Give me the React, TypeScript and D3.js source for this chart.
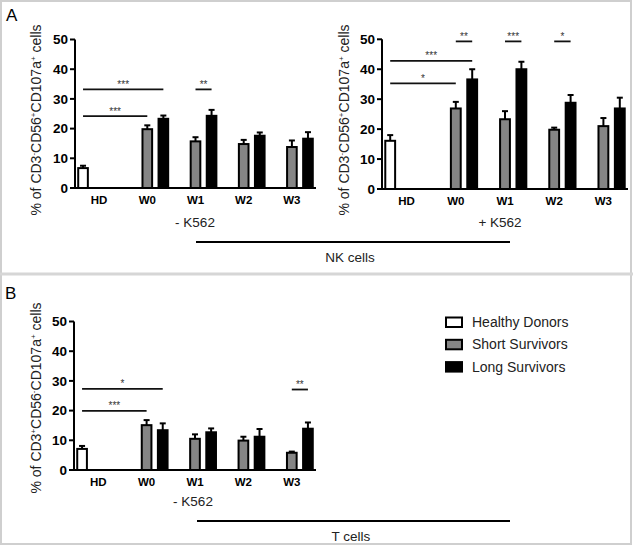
import * as d3 from "d3";

// groups and series
const groups = ["HD", "W0", "W1", "W2", "W3"];
const seriesKeys = ["healthy", "short", "long"];
const seriesNames = ["Healthy Donors", "Short Survivors", "Long Survivors"];
const seriesFill = ["#ffffff", "#858585", "#000000"];
const yTicks = [0, 10, 20, 30, 40, 50];

// NK cells, - K562
const nkMinusHealthy = [6.7, null, null, null, null];
const nkMinusHealthyErr = [0.8, null, null, null, null];
const nkMinusShort = [null, 19.8, 15.7, 14.8, 13.8];
const nkMinusShortErr = [null, 1.3, 1.4, 1.4, 2.2];
const nkMinusLong = [null, 23.3, 24.3, 17.6, 16.6];
const nkMinusLongErr = [null, 1.1, 2.0, 1.1, 2.2];

// NK cells, + K562
const nkPlusHealthy = [16.1, null, null, null, null];
const nkPlusHealthyErr = [1.9, null, null, null, null];
const nkPlusShort = [null, 26.9, 23.3, 19.8, 21.0];
const nkPlusShortErr = [null, 2.2, 2.7, 0.7, 2.7];
const nkPlusLong = [null, 36.6, 40.0, 28.8, 26.9];
const nkPlusLongErr = [null, 3.4, 2.5, 2.6, 3.6];

// T cells, - K562
const tHealthy = [7.1, null, null, null, null];
const tHealthyErr = [1.0, null, null, null, null];
const tShort = [null, 15.1, 10.5, 9.9, 5.8];
const tShortErr = [null, 1.7, 1.5, 1.3, 0.4];
const tLong = [null, 13.4, 12.7, 11.2, 13.9];
const tLongErr = [null, 2.3, 1.3, 2.6, 2.1];

// significance brackets: [groupA, seriesA, groupB, seriesB, y, stars]
type Bracket = [string, string, string, string, number, string];
const nkMinusSig: Bracket[] = [
  ["HD", "healthy", "W0", "long", 33.2, "***"],
  ["HD", "healthy", "W0", "short", 24.2, "***"],
  ["W1", "short", "W1", "long", 33.2, "**"],
];
const nkPlusSig: Bracket[] = [
  ["W0", "short", "W0", "long", 49.3, "**"],
  ["W1", "short", "W1", "long", 49.3, "***"],
  ["W2", "short", "W2", "long", 49.3, "*"],
  ["HD", "healthy", "W0", "long", 42.8, "***"],
  ["HD", "healthy", "W0", "short", 35.3, "*"],
];
const tSig: Bracket[] = [
  ["HD", "healthy", "W0", "long", 27.3, "*"],
  ["HD", "healthy", "W0", "short", 19.9, "***"],
  ["W3", "short", "W3", "long", 27.1, "**"],
];

const font = "Liberation Sans, Arial, Helvetica, sans-serif";

type PanelProps = {
  x0: number;
  x1: number;
  yZero: number;
  yTop: number;
  values: (number | null)[][];
  errors: (number | null)[][];
  sig: Bracket[];
  titleX: number;
  titleY: number;
  nk: boolean;
};

const Panel = ({ x0, x1, yZero, yTop, values, errors, sig, titleX, titleY, nk }: PanelProps) => {
  const slots = groups.flatMap((g) => seriesKeys.map((s) => `${g}|${s}`));
  const x = d3.scaleBand().domain(slots).range([x0, x1]).paddingInner(0.4).paddingOuter(0.2);
  const y = d3.scaleLinear().domain([0, 50]).range([yZero, yTop]);
  const bw = x.bandwidth();
  const cx = (g: string, s: string) => x(`${g}|${s}`)! + bw / 2;

  return (
    <g>
      {/* bars */}
      {seriesKeys.map((s, si) =>
        groups.map((g, gi) => {
          const v = values[si][gi];
          if (v == null) return null;
          const e = errors[si][gi] ?? 0;
          const c = cx(g, s);
          return (
            <g key={`${s}${g}`}>
              <line x1={c} x2={c} y1={y(v)} y2={y(v + e)} stroke="#000" strokeWidth={2} />
              <line x1={c - 3} x2={c + 3} y1={y(v + e)} y2={y(v + e)} stroke="#000" strokeWidth={2} />
              <rect
                x={x(`${g}|${s}`)!}
                y={y(v)}
                width={bw}
                height={yZero - y(v)}
                fill={seriesFill[si]}
                stroke="#000"
                strokeWidth={2}
              />
            </g>
          );
        })
      )}
      {/* axes */}
      <line x1={x0} x2={x1} y1={yZero} y2={yZero} stroke="#000" strokeWidth={2} />
      <line x1={x0} x2={x0} y1={yZero + 1} y2={y(50)} stroke="#000" strokeWidth={2} />
      {yTicks.map((t) => (
        <g key={t}>
          <line x1={x0 - 5} x2={x0} y1={y(t)} y2={y(t)} stroke="#000" strokeWidth={2} />
          <text
            x={x0 - 7}
            y={y(t)}
            dy="0.36em"
            textAnchor="end"
            fontSize={13.5}
            fontWeight="bold"
            fontFamily={font}
          >
            {t}
          </text>
        </g>
      ))}
      {groups.map((g) => (
        <text
          key={g}
          x={cx(g, "short")}
          y={yZero + 16}
          textAnchor="middle"
          fontSize={11.5}
          fontWeight="bold"
          fontFamily={font}
        >
          {g}
        </text>
      ))}
      {/* significance */}
      {sig.map(([ga, sa, gb, sb, v, label], i) => {
        const a = cx(ga, sa);
        const b = cx(gb, sb);
        return (
          <g key={i}>
            <line x1={a} x2={b} y1={y(v)} y2={y(v)} stroke="#111" strokeWidth={1.8} />
            <text
              x={(a + b) / 2}
              y={y(v) - 1.5}
              textAnchor="middle"
              fontSize={10}
              fill="#333"
              fontFamily={font}
            >
              {label}
            </text>
          </g>
        );
      })}
      {/* y title */}
      <text
        transform={`translate(${titleX},${titleY}) rotate(-90)`}
        textAnchor="middle"
        fontSize={14}
        fill="#222"
        fontFamily={font}
        dy="0.35em"
      >
        % of CD3
        <tspan fontSize={8} dy={-5}>{nk ? "-" : "+"}</tspan>
        <tspan dy={5}>CD56</tspan>
        <tspan fontSize={8} dy={-5}>{nk ? "+" : "-"}</tspan>
        <tspan dy={5}>CD107a</tspan>
        <tspan fontSize={8} dy={-5}>+</tspan>
        <tspan dy={5}> cells</tspan>
      </text>
    </g>
  );
};

export default function App() {
  return (
    <svg
      width={633}
      height={546}
      style={{ position: "absolute", left: 0, top: 0, background: "#fff" }}
      fontFamily={font}
    >
      <rect x={0} y={0} width={633} height={546} fill="#fff" />
      {/* frames */}
      <rect x={1} y={1} width={630} height={543} fill="none" stroke="#cfcfcf" strokeWidth={2} />
      <line x1={0} x2={633} y1={274} y2={274} stroke="#d6d6d6" strokeWidth={3} />

      <text x={6} y={21} fontSize={17} fontFamily={font}>A</text>
      <text x={5} y={299} fontSize={17} fontFamily={font}>B</text>

      <Panel
        x0={75}
        x1={316}
        yZero={188}
        yTop={39.5}
        values={[nkMinusHealthy, nkMinusShort, nkMinusLong]}
        errors={[nkMinusHealthyErr, nkMinusShortErr, nkMinusLongErr]}
        sig={nkMinusSig}
        titleX={36}
        titleY={120}
        nk={true}
      />
      <Panel
        x0={382}
        x1={628}
        yZero={189}
        yTop={39.3}
        values={[nkPlusHealthy, nkPlusShort, nkPlusLong]}
        errors={[nkPlusHealthyErr, nkPlusShortErr, nkPlusLongErr]}
        sig={nkPlusSig}
        titleX={344}
        titleY={120}
        nk={true}
      />
      <Panel
        x0={74}
        x1={316}
        yZero={470}
        yTop={321.5}
        values={[tHealthy, tShort, tLong]}
        errors={[tHealthyErr, tShortErr, tLongErr]}
        sig={tSig}
        titleX={36}
        titleY={398}
        nk={false}
      />

      {/* group annotations */}
      <text x={195} y={227} textAnchor="middle" fontSize={13.5} fill="#222">- K562</text>
      <text x={500} y={227} textAnchor="middle" fontSize={13.5} fill="#222">+ K562</text>
      <line x1={196} x2={510} y1={242} y2={242} stroke="#000" strokeWidth={2.2} />
      <text x={350} y={262} textAnchor="middle" fontSize={13.5} fill="#222">NK cells</text>

      <text x={193} y={506} textAnchor="middle" fontSize={13.5} fill="#222">- K562</text>
      <line x1={197} x2={510} y1={521} y2={521} stroke="#000" strokeWidth={2.2} />
      <text x={351} y={541} textAnchor="middle" fontSize={13.5} fill="#222">T cells</text>

      {/* legend */}
      {seriesNames.map((name, i) => (
        <g key={name} transform={`translate(446,${322 + i * 22.3})`}>
          <rect x={0} y={-4.5} width={16} height={9.5} fill={seriesFill[i]} stroke="#000" strokeWidth={2} />
          <text x={26} y={0} dy="0.36em" fontSize={14} fill="#222">
            {name}
          </text>
        </g>
      ))}
    </svg>
  );
}
